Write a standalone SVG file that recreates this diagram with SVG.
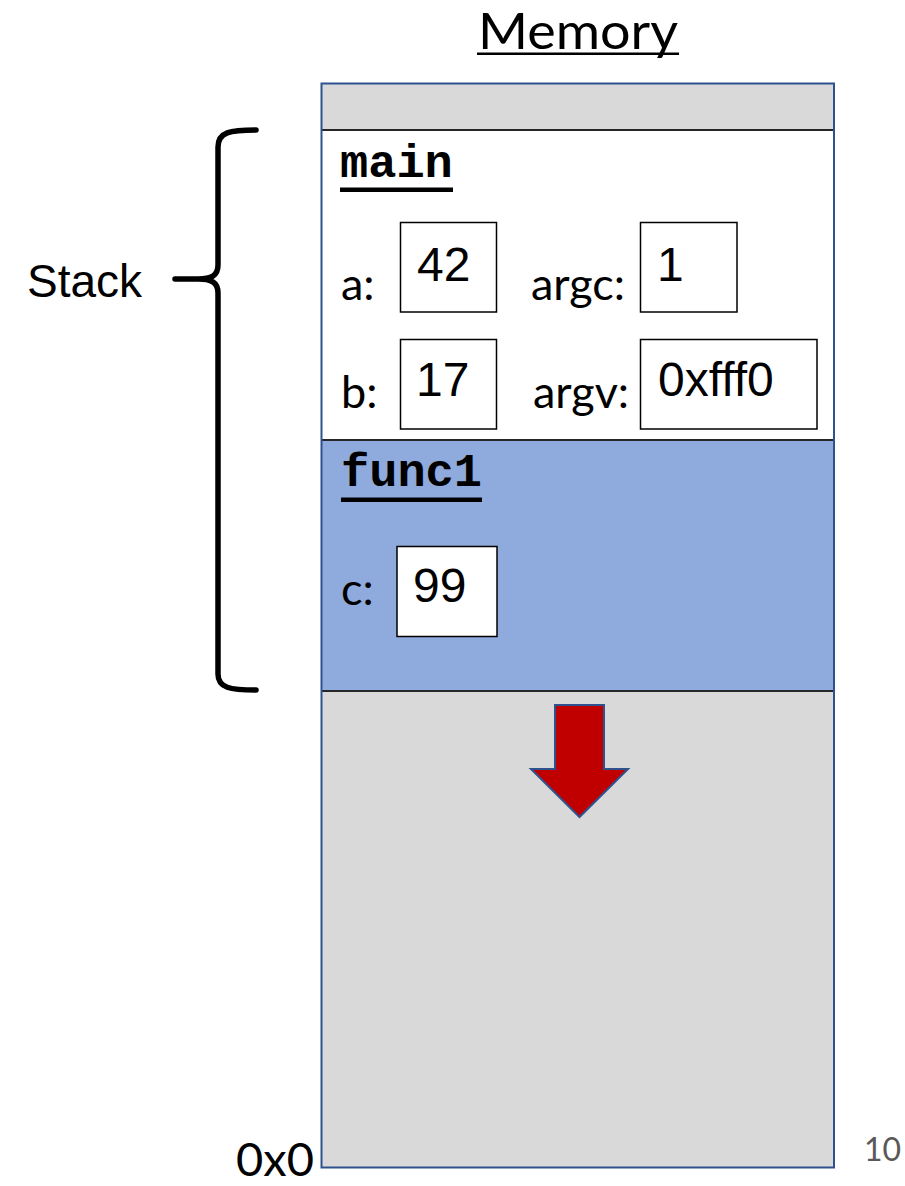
<svg xmlns="http://www.w3.org/2000/svg" width="905" height="1186" viewBox="0 0 905 1186">
<style>
.lbl{font-family:Lato,"Open Sans","Liberation Sans",sans-serif;font-size:45px;fill:#000}
.val{font-family:"Liberation Sans",Arial,sans-serif;font-size:48px;fill:#000}
.code{font-family:"Liberation Mono","Courier New",monospace;font-size:47px;font-weight:bold;fill:#000}
.box{fill:#fff;stroke:#000;stroke-width:1.5}
.div{stroke:#262626;stroke-width:2}
.ul{fill:#000}
</style>
<rect width="905" height="1186" fill="#fff"/>
<g id="title">
<text x="478" y="49" font-family="Lato,'Open Sans','Liberation Sans',sans-serif" font-size="50" textLength="200" lengthAdjust="spacingAndGlyphs">Memory</text>
<rect x="477" y="52.5" width="202" height="2.5" class="ul"/>
</g>
<g id="memory">
<rect x="321.5" y="83.5" width="512.5" height="1084" fill="#D9D9D9"/>
<rect x="321.5" y="130" width="512.5" height="310" fill="#fff"/>
<rect x="321.5" y="440" width="512.5" height="251" fill="#8FAADC"/>
<line x1="321.5" y1="130" x2="834" y2="130" class="div"/>
<line x1="321.5" y1="440" x2="834" y2="440" class="div"/>
<line x1="321.5" y1="691" x2="834" y2="691" class="div"/>
<rect x="321.5" y="83.5" width="512.5" height="1084" fill="none" stroke="#2F528F" stroke-width="2"/>
</g>
<g id="main-frame">
<text x="340" y="177" class="code">main</text>
<rect x="340" y="187.5" width="113" height="4.5" class="ul"/>
<g id="var-a">
<text x="341" y="300" class="lbl">a:</text>
<rect x="400.5" y="222.5" width="96" height="89.5" class="box"/>
<text x="417" y="281" class="val">42</text>
</g>
<g id="var-argc">
<text x="531" y="300" class="lbl">argc:</text>
<rect x="640.5" y="222.5" width="96.5" height="89.5" class="box"/>
<text x="657" y="281" class="val">1</text>
</g>
<g id="var-b">
<text x="341" y="408" class="lbl">b:</text>
<rect x="400.5" y="339.5" width="96" height="89.5" class="box"/>
<text x="416" y="396" class="val">17</text>
</g>
<g id="var-argv">
<text x="533" y="408" class="lbl">argv:</text>
<rect x="640.5" y="339.5" width="176.5" height="89.5" class="box"/>
<text x="658" y="396" class="val">0xfff0</text>
</g>
</g>
<g id="func1-frame">
<text x="341" y="486" class="code">func1</text>
<rect x="341" y="497.5" width="141" height="4.5" class="ul"/>
<g id="var-c">
<text x="341" y="605" class="lbl">c:</text>
<rect x="397" y="546.5" width="100" height="90" class="box"/>
<text x="413" y="602" class="val">99</text>
</g>
</g>
<g id="grow-arrow">
<polygon points="555,705 604,705 604,769 628,769 579.5,817 531,769 555,769" fill="#C00000" stroke="#2F528F" stroke-width="2" stroke-linejoin="miter"/>
</g>
<g id="stack-label">
<text x="27" y="297" font-family="'Liberation Sans',Arial,sans-serif" font-size="46">Stack</text>
</g>
<g id="connectors">
<path d="M256,130 C230,130 218,132 218,147 L218,265 C218,276 211,279 198,279 L175,279 M198,279 C211,279 218,282 218,293 L218,674 C218,688 230,690 256,690" fill="none" stroke="#000" stroke-width="5.5" stroke-linecap="round" stroke-linejoin="round"/>
</g>
<g id="address-label">
<text x="314" y="1176" text-anchor="end" font-family="Lato,'Open Sans','Liberation Sans',sans-serif" font-size="47">0x0</text>
</g>
<g id="slide-number">
<text x="864" y="1161" font-family="Lato,'Open Sans','Liberation Sans',sans-serif" font-size="32" fill="#595959">10</text>
</g>
</svg>
